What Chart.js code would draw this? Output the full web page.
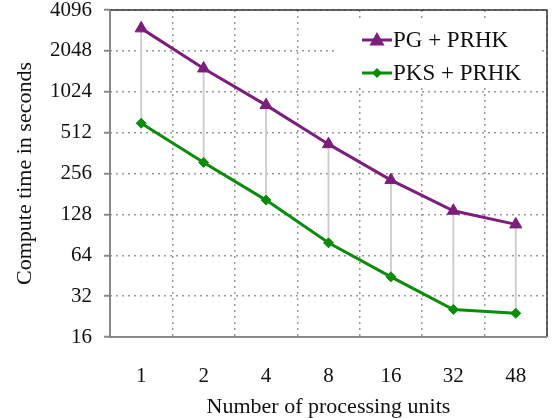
<!DOCTYPE html>
<html lang="en">
  <head>
    <meta charset="UTF-8" />
    <title>Compute time</title>
    <script src="https://cdn.jsdelivr.net/npm/chart.js"></script>
    <style>
      html, body { margin: 0; padding: 0; background: #fff; }
      #wrap { width: 555px; height: 418px; }
    </style>
  </head>
  <body>
    <div id="wrap"><canvas id="myChart" width="555" height="418"></canvas></div>

    <script>
      const units = ["1", "2", "4", "8", "16", "32", "48"];
      const pgPrhk = [3000, 1520, 816, 421, 229, 136, 108];
      const pksPrhk = [600, 309, 163, 79, 44.4, 25.5, 23.9];
      const yTicks = [16, 32, 64, 128, 256, 512, 1024, 2048, 4096];

      const purple = "#7b1f7b";
      const green = "#0a8c0a";
      const serif = "'Liberation Serif', 'Times New Roman', serif";

      // gray vertical lines joining the two series at each category
      const connectors = {
        id: "connectors",
        beforeDatasetsDraw(chart) {
          const a = chart.getDatasetMeta(0).data;
          const b = chart.getDatasetMeta(1).data;
          const ctx = chart.ctx;
          ctx.save();
          ctx.strokeStyle = "#cfcfcf";
          ctx.lineWidth = 2;
          for (let i = 0; i < a.length; i++) {
            ctx.beginPath();
            ctx.moveTo(a[i].x, a[i].y);
            ctx.lineTo(b[i].x, b[i].y);
            ctx.stroke();
          }
          ctx.restore();
        },
      };

      function marker(ctx, style, x, y, r, color) {
        ctx.fillStyle = color;
        ctx.beginPath();
        if (style === "triangle") {
          ctx.moveTo(x, y - r);
          ctx.lineTo(x + r * 0.95, y + r * 0.7);
          ctx.lineTo(x - r * 0.95, y + r * 0.7);
        } else {
          ctx.moveTo(x, y - r);
          ctx.lineTo(x + r, y);
          ctx.lineTo(x, y + r);
          ctx.lineTo(x - r, y);
        }
        ctx.closePath();
        ctx.fill();
      }

      // legend inside the plot, line + marker + label
      const boxLegend = {
        id: "boxLegend",
        afterDatasetsDraw(chart) {
          const ctx = chart.ctx;
          const area = chart.chartArea;
          ctx.save();
          ctx.fillStyle = "#fff";
          ctx.fillRect(area.right - 210, area.top + 10, 202, 66);
          chart.data.datasets.forEach((ds, i) => {
            const y = area.top + 30 + i * 33;
            const x0 = area.right - 185;
            ctx.strokeStyle = ds.borderColor;
            ctx.lineWidth = 3;
            ctx.beginPath();
            ctx.moveTo(x0, y);
            ctx.lineTo(x0 + 30, y);
            ctx.stroke();
            marker(ctx, ds.pointStyle, x0 + 15, y, i === 0 ? 8 : 5, ds.borderColor);
            ctx.fillStyle = "#111";
            ctx.font = "23px " + serif;
            ctx.textBaseline = "middle";
            ctx.fillText(ds.label, x0 + 31, y + 1);
          });
          ctx.restore();
        },
        afterDraw(chart) {
          const ctx = chart.ctx;
          const { left, right, top, bottom } = chart.chartArea;
          ctx.save();
          ctx.strokeStyle = "#333";
          ctx.lineWidth = 1.5;
          ctx.beginPath();
          ctx.moveTo(left, top);
          ctx.lineTo(right, top);
          ctx.lineTo(right, bottom);
          ctx.stroke();
          ctx.strokeStyle = "#8a8a8a";
          ctx.lineWidth = 2;
          ctx.beginPath();
          ctx.moveTo(left, top);
          ctx.lineTo(left, bottom);
          ctx.lineTo(right, bottom);
          ctx.stroke();
          ctx.restore();
        },
      };

      const data = {
        labels: units,
        datasets: [
          {
            label: "PG + PRHK",
            data: pgPrhk,
            borderColor: purple,
            backgroundColor: purple,
            borderWidth: 3,
            pointStyle: "triangle",
            pointRadius: 7,
            pointBorderWidth: 1,
            tension: 0,
          },
          {
            label: "PKS + PRHK",
            data: pksPrhk,
            borderColor: green,
            backgroundColor: green,
            borderWidth: 3,
            pointStyle: "rectRot",
            pointRadius: 5,
            pointBorderWidth: 1,
            tension: 0,
          },
        ],
      };

      const config = {
        type: "line",
        data: data,
        options: {
          responsive: false,
          animation: false,
          layout: { padding: { top: 10, right: 2, left: 0, bottom: 0 } },
          plugins: { legend: { display: false }, tooltip: { enabled: false } },
          scales: {
            x: {
              offset: true,
              grid: {
                offset: true,
                color: "#9a9a9a",
                lineWidth: 1.5,
                drawTicks: false,
              },
              border: { display: false, dash: [2, 4] },
              ticks: { color: "#111", font: { family: serif, size: 21 }, padding: 27 },
              title: {
                display: true,
                text: "Number of processing units",
                color: "#111",
                font: { family: serif, size: 22 },
                padding: { top: 0, bottom: -2 },
              },
              afterFit(scale) {
                scale.height = 81;
                scale.paddingLeft = 0;
                scale.paddingRight = 0;
              },
            },
            y: {
              type: "logarithmic",
              min: 16,
              max: 4096,
              grid: {
                color: "#9a9a9a",
                lineWidth: 1.5,
                tickLength: 6,
                tickColor: "#8a8a8a",
                tickWidth: 2,
              },
              border: { display: false, dash: [2, 4] },
              ticks: {
                color: "#111",
                font: { family: serif, size: 21 },
                padding: 12,
                callback: (v) => String(v),
              },
              afterBuildTicks(scale) {
                scale.ticks = yTicks.map((v) => ({ value: v }));
              },
              title: {
                display: true,
                text: "Compute time in seconds",
                color: "#111",
                font: { family: serif, size: 22 },
                padding: { top: 12, bottom: 0 },
              },
              afterFit(scale) {
                scale.width = 110;
                scale.paddingTop = 0;
                scale.paddingBottom = 0;
              },
            },
          },
        },
        plugins: [connectors, boxLegend],
      };

      const myChart = new Chart(document.getElementById("myChart"), config);
    </script>
  </body>
</html>
